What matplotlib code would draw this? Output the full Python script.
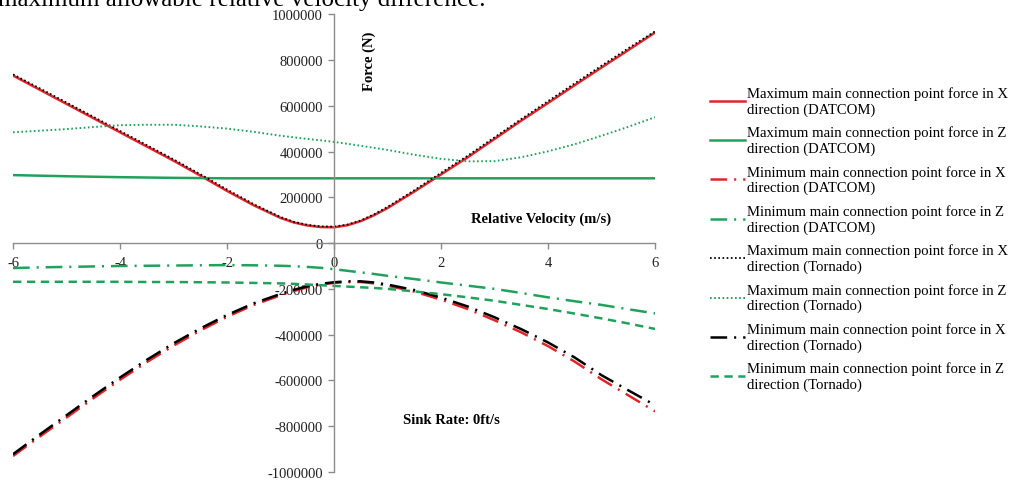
"""
Main connection point forces vs relative velocity (sink rate 0 ft/s)
DATCOM vs Tornado
"""

import matplotlib.pyplot as plt
import matplotlib.ticker as mticker
import numpy as np

plt.rcParams['font.family'] = ['Liberation Serif', 'DejaVu Serif']
plt.rcParams['lines.scale_dashes'] = False
plt.rcParams['axes.unicode_minus'] = False

# ----- Data -----
velocity = [-6, -5.5, -5, -4.5, -4, -3.5, -3, -2.5, -2, -1.5, -1, -0.75, -0.5, -0.25, 0,
            0.25, 0.5, 0.75, 1, 1.5, 2, 2.5, 3, 3.5, 4, 4.5, 5, 5.5, 6]

max_x_datcom = [732000, 670000, 608000, 546000, 484000, 422000, 360000, 295000,
                228000, 165000, 110000, 90000, 77000, 70000, 69000,
                78000, 96000, 122000, 153000, 225000,
                300000, 375000, 455000, 535000, 612000, 690000, 767000, 843000, 920000]
max_z_datcom = [297000, 294500, 292000, 290000, 288000, 286500, 285000, 284000,
                283000, 283000, 283000, 283000, 283000, 283000, 283000,
                283000, 283000, 283000, 283000, 283000,
                283000, 283000, 283000, 283000, 283000, 283000, 283000, 283000, 283000]
min_x_datcom = [-930000, -845000, -762000, -678000, -597000, -520000, -448000, -382000,
                -322000, -270000, -228000, -209000, -193000, -181000, -174000,
                -170000, -170000, -176000, -186000, -212000,
                -247000, -288000, -337000, -390000, -450000, -518000, -595000, -665000, -735000]
min_z_datcom = [-109000, -106000, -104000, -102000, -100000, -99000, -98000, -97000,
                -96000, -97000, -99000, -101000, -104000, -108000, -114000,
                -121000, -128000, -135000, -143000, -157000,
                -172000, -186000, -200000, -218000, -237000, -254000, -270000, -289000, -307000]

max_x_tornado = [737000, 676000, 614000, 552000, 490000, 428000, 366000, 301000,
                 234000, 170000, 114000, 93000, 80000, 73000, 72000,
                 81000, 99000, 126000, 158000, 231000,
                 307000, 382000, 462000, 542000, 620000, 698000, 775000, 851000, 925000]
max_z_tornado = [484000, 491000, 498000, 507000, 515000, 517000, 517000, 510000,
                 500000, 486000, 469000, 462000, 455000, 449000, 442000,
                 434000, 425000, 416000, 407000, 386000,
                 368000, 357000, 358000, 375000, 401000, 432000, 469000, 508000, 550000]
min_x_tornado = [-922000, -836000, -752000, -668000, -587000, -510000, -438000, -373000,
                 -314000, -263000, -222000, -204000, -189000, -178000, -171000,
                 -167000, -167000, -172000, -181000, -205000,
                 -238000, -277000, -324000, -376000, -434000, -500000, -577000, -643000, -708000]
min_z_tornado = [-169000, -169000, -169000, -169000, -169000, -170000, -170000, -171000,
                 -172000, -174000, -176000, -178000, -181000, -184000, -187000,
                 -190000, -193000, -196000, -200000, -211000,
                 -223000, -237000, -252000, -270000, -288000, -308000, -329000, -351000, -375000]

RED = '#E0262A'
GREEN = '#20A25C'
DASHDOT = (0, (12, 5, 1.5, 5))
DASHED = (0, (6, 4))
DOTTED = (0, (1.2, 1.8))

# ----- Plot -----
fig = plt.figure(figsize=(10.11, 4.85), dpi=100)
ax = fig.add_axes([0.0129, 0.0247, 0.635, 0.944])

ax.plot(velocity, max_x_datcom, color=RED, lw=1.8, ls='-',
        label='Maximum main connection point force in X\ndirection (DATCOM)')
ax.plot(velocity, max_z_datcom, color=GREEN, lw=1.8, ls='-',
        label='Maximum main connection point force in Z\ndirection (DATCOM)')
ax.plot(velocity, min_x_datcom, color=RED, lw=1.8, ls=DASHDOT,
        label='Minimum main connection point force in X\ndirection (DATCOM)')
ax.plot(velocity, min_z_datcom, color=GREEN, lw=1.8, ls=DASHDOT,
        label='Minimum main connection point force in Z\ndirection (DATCOM)')
ax.plot(velocity, max_x_tornado, color='black', lw=1.3, ls=DOTTED,
        label='Maximum main connection point force in X\ndirection (Tornado)')
ax.plot(velocity, max_z_tornado, color=GREEN, lw=1.4, ls=DOTTED,
        label='Maximum main connection point force in Z\ndirection (Tornado)')
ax.plot(velocity, min_x_tornado, color='black', lw=1.8, ls=DASHDOT,
        label='Minimum main connection point force in X\ndirection (Tornado)')
ax.plot(velocity, min_z_tornado, color=GREEN, lw=1.8, ls=DASHED,
        label='Minimum main connection point force in Z\ndirection (Tornado)')

ax.set_xlim(-6, 6)
ax.set_ylim(-1000000, 1000000)
ax.xaxis.set_major_locator(mticker.MultipleLocator(2))
ax.yaxis.set_major_locator(mticker.MultipleLocator(200000))
ax.yaxis.set_major_formatter(mticker.FormatStrFormatter('%d'))

ax.spines['left'].set_position(('data', 0))
ax.spines['bottom'].set_position(('data', 0))
ax.spines[['top', 'right']].set_visible(False)
for side in ['left', 'bottom']:
    ax.spines[side].set_color('#8C8C8C')
    ax.spines[side].set_linewidth(1.0)
ax.tick_params(axis='both', colors='#8C8C8C', labelcolor='#222222',
               labelsize=10.5, length=4, width=1.0)
ax.tick_params(axis='x', pad=5)
ax.tick_params(axis='y', pad=4)
ax.patch.set_alpha(0)

ax.text(0.66, 800000, 'Force (N)', rotation=90, fontsize=10.5, fontweight='bold',
        ha='center', va='center')
ax.text(3.87, 110000, 'Relative Velocity (m/s)', fontsize=10.5, fontweight='bold',
        ha='center', va='center')
ax.text(2.2, -770000, 'Sink Rate: 0ft/s', fontsize=10.5, fontweight='bold',
        ha='center', va='center')

fig.text(-0.002, 1 - 6 / 485, 'maximum allowable relative velocity difference.',
         fontsize=18, ha='left', va='baseline')

ax.legend(loc='upper left', bbox_to_anchor=(0.702, 0.82),
          bbox_transform=fig.transFigure, frameon=False, fontsize=10.6,
          handlelength=2.4, handletextpad=0.15, labelspacing=0.68,
          borderpad=0, borderaxespad=0)

plt.savefig('out.png', dpi=100)
